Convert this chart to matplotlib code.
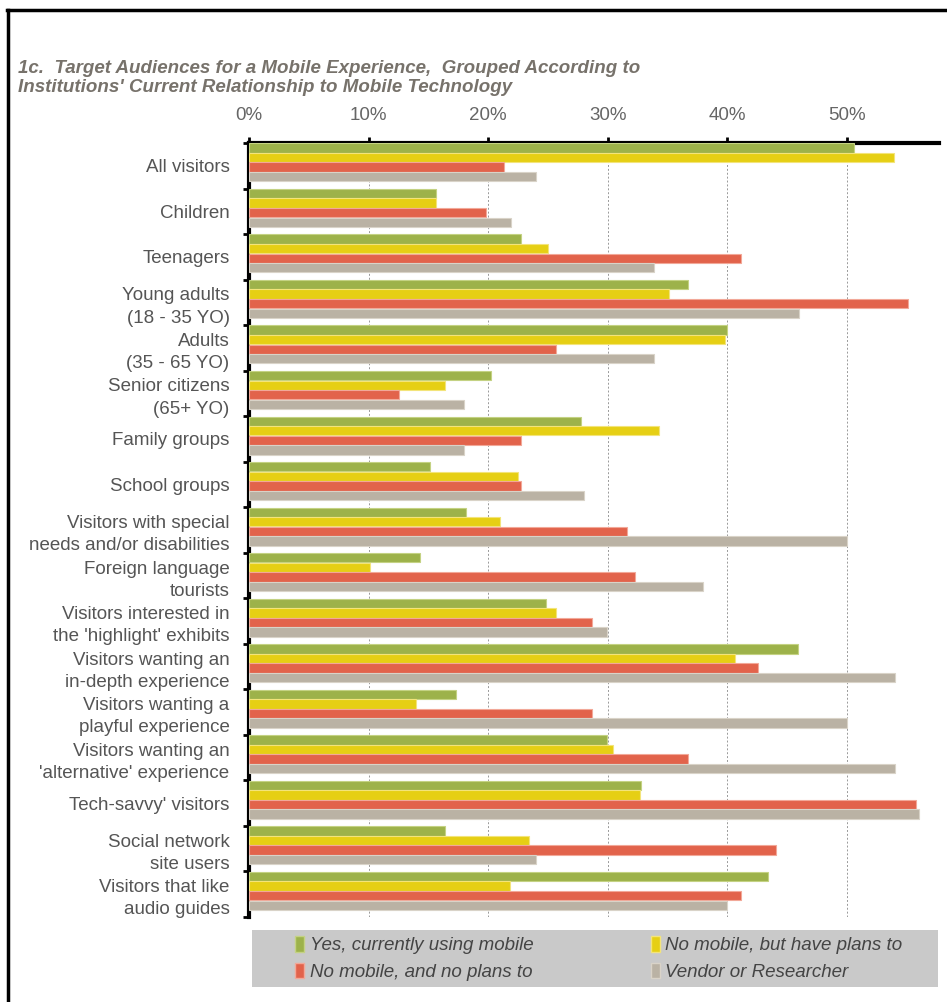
import numpy as np
import matplotlib
matplotlib.use("Agg")
import matplotlib.pyplot as plt
from matplotlib.lines import Line2D
from matplotlib.patches import Patch, Rectangle

plt.rcParams['font.family'] = ['Liberation Sans', 'DejaVu Sans']

categories = [
    "All visitors", "Children", "Teenagers", "Young adults\n(18 - 35 YO)",
    "Adults\n(35 - 65 YO)", "Senior citizens\n(65+ YO)", "Family groups",
    "School groups", "Visitors with special\nneeds and/or disabilities",
    "Foreign language\ntourists", "Visitors interested in\nthe 'highlight' exhibits",
    "Visitors wanting an\nin-depth experience", "Visitors wanting a\nplayful experience",
    "Visitors wanting an\n'alternative' experience", "Tech-savvy' visitors",
    "Social network\nsite users", "Visitors that like\naudio guides",
]
yes_mobile = [50.6, 15.6, 22.7, 36.7, 40.0, 20.2, 27.8, 15.1, 18.1, 14.3, 24.8, 45.9, 17.3, 29.9, 32.8, 16.4, 43.4]
plans_to   = [53.9, 15.6, 25.0, 35.1, 39.8, 16.4, 34.3, 22.5, 21.0, 10.1, 25.7, 40.6, 14.0, 30.4, 32.7, 23.4, 21.8]
no_plans   = [21.3, 19.8, 41.1, 55.1, 25.7, 12.5, 22.7, 22.7, 31.6, 32.3, 28.7, 42.6, 28.7, 36.7, 55.8, 44.1, 41.1]
vendor     = [24.0, 21.9, 33.9, 46.0, 33.9, 18.0, 18.0, 28.0, 50.0, 38.0, 29.9, 54.0, 50.0, 54.0, 56.0, 24.0, 40.0]
series_names = ["Yes, currently using mobile", "No mobile, and no plans to",
                "No mobile, but have plans to", "Vendor or Researcher"]
ticks = [0, 10, 20, 30, 40, 50]

colors = ["#9db24a", "#e6cf14", "#e2634b", "#bab2a4"]
edges = ["#c4d283", "#f3e47a", "#f2a898", "#d9d3c8"]
series = [yes_mobile, plans_to, no_plans, vendor]

fig = plt.figure(figsize=(9.47, 10.02), dpi=100)
ax = fig.add_axes([0.263, 0.0848, 0.7286, 0.7725])

n = len(categories)
idx = np.arange(n)
h = 0.205
for j, vals in enumerate(series):
    ax.barh(idx + 0.11 + j * 0.21, vals, height=h, color=colors[j],
            edgecolor=edges[j], linewidth=0.8, zorder=3)

ax.set_ylim(n, 0)
ax.set_xlim(0, 57.7)

ax.xaxis.tick_top()
ax.set_xticks(ticks)
ax.set_xticklabels([f"{t}%" for t in ticks], color="#666666", fontsize=13.5)
ax.tick_params(axis='x', direction='out', length=4, width=2, color='black', pad=10)

ax.set_yticks(np.arange(n + 1))
ax.set_yticklabels([])
ax.tick_params(axis='y', which='major', direction='out', length=4, width=2, color='black')
ax.set_yticks(idx + 0.5, minor=True)
ax.set_yticklabels(categories, minor=True, color="#555555", fontsize=13.5,
                   linespacing=1.4)
ax.tick_params(axis='y', which='minor', length=0, pad=14)

for t in ticks[1:]:
    ax.axvline(t, color="#999999", linestyle=(0, (2, 2)), linewidth=0.7, zorder=1)

for s in ['right', 'bottom']:
    ax.spines[s].set_visible(False)
ax.spines['top'].set_linewidth(3)
ax.spines['left'].set_linewidth(3)

fig.text(0.019, 0.9225, "1c.  Target Audiences for a Mobile Experience,  Grouped According to\n"
         "Institutions' Current Relationship to Mobile Technology",
         fontsize=13.5, fontweight='bold', fontstyle='italic', color="#77726b",
         ha='left', va='center', linespacing=1.15)

# legend panel
fig.add_artist(Rectangle((0.266, 0.015), 0.724, 0.057, transform=fig.transFigure,
                         facecolor="#c9c9c9", edgecolor='none', zorder=1))
handles = [Patch(facecolor=colors[0], edgecolor=edges[0]),
           Patch(facecolor=colors[2], edgecolor=edges[2]),
           Patch(facecolor=colors[1], edgecolor=edges[1]),
           Patch(facecolor=colors[3], edgecolor=edges[3])]
leg = fig.legend(handles, series_names, ncol=2, loc='center left',
                 bbox_to_anchor=(0.312, 0.0435), frameon=False,
                 handlelength=0.45, handleheight=0.9, handletextpad=0.3,
                 columnspacing=6.3, prop={'style': 'italic', 'size': 13.5},
                 labelspacing=0.45, borderpad=0, borderaxespad=0)
leg.set_zorder(2)
for txt in leg.get_texts():
    txt.set_color("#444444")

# outer frame (top and left edges)
fig.add_artist(Line2D([0.007, 1.0], [0.99, 0.99], color='black', linewidth=2.5,
                      transform=fig.transFigure))
fig.add_artist(Line2D([0.008, 0.008], [0.0, 0.99], color='black', linewidth=2.5,
                      transform=fig.transFigure))

fig.savefig("out.png", dpi=100)
